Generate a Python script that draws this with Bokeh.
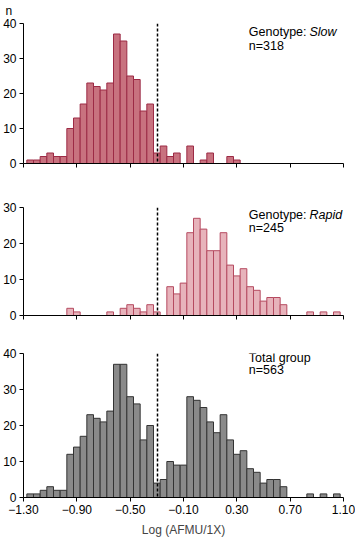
from bokeh.plotting import figure
from bokeh.models import Range1d, Span, Label, Title
from bokeh.layouts import column
from bokeh.embed import file_html
from bokeh.resources import INLINE

# ---- data ----
bin_centers = [-1.25, -1.20, -1.15, -1.10, -1.05, -1.00, -0.95, -0.90, -0.85, -0.80,
               -0.75, -0.70, -0.65, -0.60, -0.55, -0.50, -0.45, -0.40, -0.35, -0.30,
               -0.25, -0.20, -0.15, -0.10, -0.05, 0.00, 0.05, 0.10, 0.15, 0.20,
               0.25, 0.30, 0.35, 0.40, 0.45, 0.50, 0.55, 0.60, 0.65, 0.70,
               0.75, 0.80, 0.85, 0.90, 0.95, 1.00, 1.05]
slow_counts = [1, 1, 2, 3, 2, 2, 10, 13, 17, 23, 22, 21, 23, 37, 35, 25, 24, 15, 17, 3,
               5, 2, 3, 0, 5, 0, 1, 3, 0, 0, 2, 1, 0, 0, 0, 0, 0, 0, 0, 0,
               0, 0, 0, 0, 0, 0, 0]
rapid_counts = [0, 0, 0, 0, 0, 0, 2, 1, 0, 0, 0, 0, 1, 0, 2, 3, 2, 1, 3, 1,
                0, 8, 6, 9, 23, 27, 24, 18, 18, 23, 14, 11, 13, 8, 7, 4, 5, 5, 3, 0,
                0, 0, 1, 0, 1, 0, 1]
total_counts = [1, 1, 2, 3, 2, 2, 12, 14, 17, 23, 22, 21, 24, 37, 37, 28, 26, 16, 20, 4,
                5, 10, 9, 9, 28, 27, 25, 21, 18, 23, 16, 12, 13, 8, 7, 4, 5, 5, 3, 0,
                0, 0, 1, 0, 1, 0, 1]
x_ticks = [-1.30, -0.90, -0.50, -0.10, 0.30, 0.70, 1.10]
x_tick_labels = ["\u22121.30", "\u22120.90", "\u22120.50", "\u22120.10", "0.30", "0.70", "1.10"]
antimode = -0.295
bin_width = 0.05

FONT = "Liberation Sans"


def make_panel(counts, ymax, yticks, fill, line, frame_h, top, bottom, show_labels):
    p = figure(frame_width=320, frame_height=frame_h,
               x_range=Range1d(-1.30, 1.10), y_range=Range1d(0, ymax),
               output_backend="svg", toolbar_location=None,
               min_border_left=31, min_border_right=12,
               min_border_top=top, min_border_bottom=bottom)
    xs = [c for c, v in zip(bin_centers, counts) if v > 0]
    ts = [v for v in counts if v > 0]
    p.vbar(x=xs, top=ts, bottom=0, width=bin_width,
           fill_color=fill, line_color=line, line_width=1)
    p.add_layout(Span(location=antimode, dimension="height", line_color="black",
                      line_width=1.5, line_dash="3 2"))
    p.grid.visible = False
    p.outline_line_color = None
    for ax in (p.xaxis[0], p.yaxis[0]):
        ax.axis_line_color = "black"
        ax.major_tick_line_color = "black"
        ax.major_tick_out = 4
        ax.major_tick_in = 0
        ax.minor_tick_line_color = None
        ax.major_label_text_font = FONT
        ax.major_label_text_font_size = "12px"
        ax.major_label_text_color = "black"
        ax.major_label_standoff = 3
    p.xaxis.ticker = x_ticks
    if show_labels:
        p.xaxis.major_label_overrides = dict(zip(x_ticks, x_tick_labels))
    else:
        p.xaxis.major_label_overrides = {t: "" for t in x_ticks}
    p.yaxis.ticker = yticks
    return p


p1 = make_panel(slow_counts, 40, [0, 10, 20, 30, 40], "#c8727f", "#9c2a45", 140, 31, 22, False)
p2 = make_panel(rapid_counts, 30, [0, 10, 20, 30], "#e7b3bb", "#b54a60", 108, 22, 18, False)
p3 = make_panel(total_counts, 40, [0, 10, 20, 30, 40], "#8a8a8a", "#333333", 144, 20, 40, True)
p3.xaxis.axis_label = "Log (AFMU/1X)"
p3.xaxis.axis_label_text_font = FONT
p3.xaxis.axis_label_text_font_size = "12px"
p3.xaxis.axis_label_text_font_style = "normal"
p3.xaxis.axis_label_standoff = 6


def lab(p, x, y, text, style="normal"):
    p.add_layout(Label(x=x, y=y, text=text, text_font=FONT, text_font_size="12.5px",
                       text_font_style=style, text_color="black",
                       text_baseline="alphabetic", text_align="left"))


lab(p1, 0.39, 37.6, "Genotype:")
lab(p1, 0.845, 37.6, "Slow", "italic")
lab(p1, 0.39, 33.6, "n=318")
lab(p2, 0.39, 27.9, "Genotype:")
lab(p2, 0.845, 27.9, "Rapid", "italic")
lab(p2, 0.39, 24.4, "n=245")
lab(p3, 0.39, 38.8, "Total group")
lab(p3, 0.39, 35.3, "n=563")

p1.title = Title(text="n", align="left", offset=-18, text_font=FONT,
                 text_font_size="12px", text_font_style="normal",
                 text_color="black", standoff=11)

layout = column(p1, p2, p3, spacing=0,
                styles={"margin-left": "-8px", "margin-top": "-8px"})

open("out.html", "w").write(file_html(layout, INLINE))
